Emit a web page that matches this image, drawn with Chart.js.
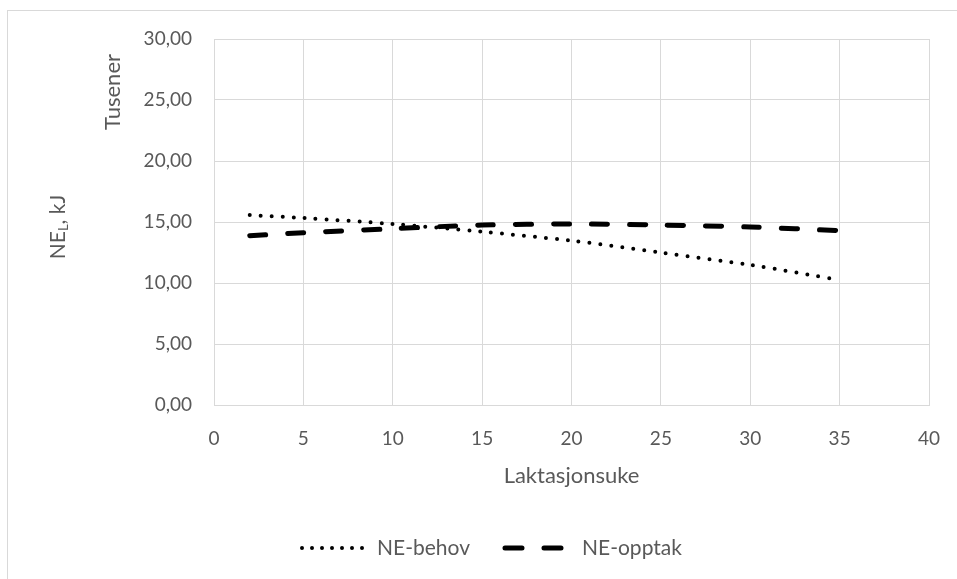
<!DOCTYPE html>
<html>
<head>
<meta charset="utf-8">
<script src="https://cdn.jsdelivr.net/npm/chart.js@4.4.1/dist/chart.umd.min.js"></script>
<style>
  html,body{margin:0;padding:0;background:#fff;}
  #wrap{position:relative;width:957px;height:579px;}
</style>
</head>
<body>
<div id="wrap"><canvas id="c" width="957" height="579"></canvas></div>
<script>
// values in thousands of kJ (axis shows "Tusener")
const weeks   = [2, 5, 10, 15, 20, 25, 30, 35];
const behov   = [15.57, 15.33, 14.84, 14.2, 13.47, 12.49, 11.48, 10.25];
const opptak  = [13.88, 14.12, 14.45, 14.75, 14.84, 14.75, 14.59, 14.29];
const xTicks  = [0, 5, 10, 15, 20, 25, 30, 35, 40];
const yTicks  = [0, 5, 10, 15, 20, 25, 30];

const FONT = 'Lato, "Open Sans", sans-serif';
const GREY = '#595959';

const extras = {
  id:'extras',
  beforeDraw(ch){
    const c=ch.ctx; c.save();
    c.strokeStyle='#d9d9d9'; c.lineWidth=1;
    c.strokeRect(7.5,10.5,1000,700);
    c.restore();
  },
  afterDraw(ch){
    const c=ch.ctx; c.save();
    c.fillStyle=GREY; c.textBaseline='middle';
    // y title NE_L, kJ
    c.save(); c.translate(58,227); c.rotate(-Math.PI/2);
    const a='NE', b=', kJ';
    c.font='21px '+FONT; const wa=c.measureText(a).width;
    c.font='13px '+FONT; const ws=c.measureText('L').width;
    c.font='21px '+FONT; const wb=c.measureText(b).width;
    let x=-(wa+ws+wb)/2;
    c.textAlign='left';
    c.fillText(a,x,0); x+=wa;
    c.font='13px '+FONT; c.fillText('L',x,6); x+=ws;
    c.font='21px '+FONT; c.fillText(b,x,0);
    c.restore();
    // display unit
    c.save(); c.translate(113,92); c.rotate(-Math.PI/2);
    c.font='22px '+FONT; c.textAlign='center'; c.fillText('Tusener',0,0);
    c.restore();
    // x title
    c.font='22px '+FONT; c.textAlign='center';
    c.fillText('Laktasjonsuke',(ch.chartArea.left+ch.chartArea.right)/2,476);
    // legend
    const ly=548;
    c.strokeStyle='#000'; c.lineCap='round';
    c.lineWidth=4; c.setLineDash([0,10]);
    c.beginPath(); c.moveTo(302,ly); c.lineTo(372,ly); c.stroke();
    c.lineWidth=5; c.setLineDash([17,22]);
    c.beginPath(); c.moveTo(505,ly); c.lineTo(562,ly); c.stroke();
    c.setLineDash([]);
    c.textAlign='left'; c.font='21px '+FONT;
    c.fillText('NE-behov',377,ly);
    c.fillText('NE-opptak',582,ly);
    c.restore();
  }
};

new Chart(document.getElementById('c'),{
  type:'line',
  data:{datasets:[
    {label:'NE-behov', data:weeks.map((w,i)=>({x:w,y:behov[i]})),
     borderColor:'#000', borderWidth:4, borderDash:[0,11], borderCapStyle:'round',
     pointRadius:0, tension:0.3, fill:false},
    {label:'NE-opptak', data:weeks.map((w,i)=>({x:w,y:opptak[i]})),
     borderColor:'#000', borderWidth:5, borderDash:[16,22], borderCapStyle:'round',
     pointRadius:0, tension:0.3, fill:false}
  ]},
  options:{
    responsive:false, animation:false,
    layout:{padding:{top:39,right:28,bottom:0,left:0}},
    plugins:{legend:{display:false}, tooltip:{enabled:false}},
    scales:{
      x:{type:'linear', min:0, max:40,
         afterBuildTicks:s=>{s.ticks=xTicks.map(v=>({value:v}));},
         afterFit:s=>{s.height=174; s.paddingLeft=0; s.paddingRight=0;},
         grid:{color:'#d9d9d9', drawTicks:false}, border:{color:'#d9d9d9'},
         ticks:{padding:22, color:GREY, font:{family:FONT,size:19}, maxRotation:0}},
      y:{min:0, max:30,
         afterBuildTicks:s=>{s.ticks=yTicks.map(v=>({value:v}));},
         afterFit:s=>{s.width=214; s.paddingTop=0; s.paddingBottom=0;},
         grid:{color:'#d9d9d9', drawTicks:false}, border:{color:'#d9d9d9'},
         ticks:{padding:22, color:GREY, font:{family:FONT,size:19},
                callback:v=>v.toFixed(2).replace('.',',')}}
    }
  },
  plugins:[extras]
});
</script>
</body>
</html>
